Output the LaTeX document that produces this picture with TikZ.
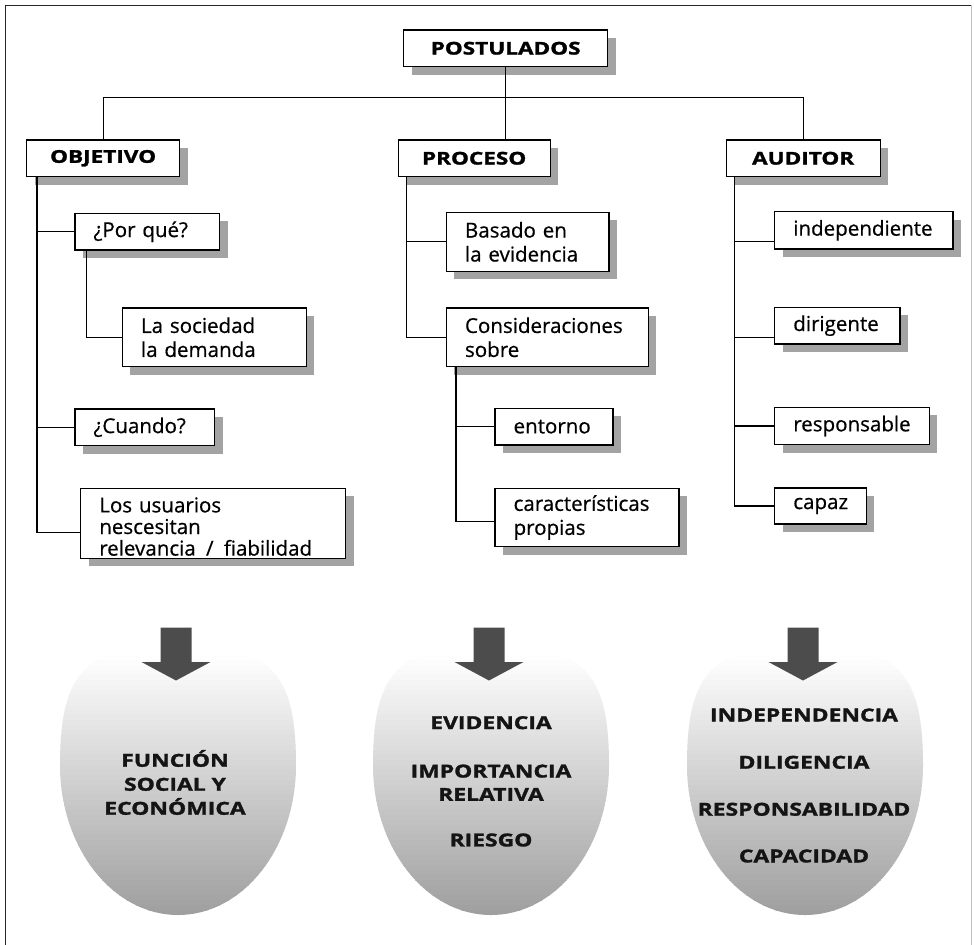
\documentclass[tikz,border=0pt]{standalone}
\usepackage{fontspec}
\setmainfont{Open Sans}[FakeBold=0.6]
\newfontfamily\headfont{Open Sans}[FakeStretch=1.28, FakeBold=1.6]
\usetikzlibrary{shadows}

\begin{document}
\begin{tikzpicture}[x=0.75pt,y=-0.75pt,
  frameline/.style={line width=1.1pt, draw=black!85},
  link/.style={line width=0.9pt, draw=black},
  boxbase/.style={draw=black, fill=white, line width=0.95pt, anchor=north west,
    inner ysep=0pt,
    drop shadow={shadow xshift=6pt, shadow yshift=-6pt, fill=black!36, opacity=1}},
  headbox/.style={boxbase, inner xsep=0pt,
    font=\headfont\bfseries\fontsize{13.2}{16}\selectfont, align=center},
  itembox/.style={boxbase, inner xsep=14pt, align=left,
    font=\fontsize{15.4}{18}\selectfont,
    execute at begin node={\hyphenpenalty=10000\exhyphenpenalty=10000}},
  tightbox/.style={itembox, font=\fontsize{15.4}{16.2}\selectfont,
    text height=18pt, text depth=34.4pt},
  arrowfill/.style={fill=black!70},
  eggtext/.style={align=center, text=black!92, inner sep=0pt,
    font=\headfont\bfseries\fontsize{13.4}{17.5}\selectfont},
  eggtextwide/.style={eggtext,
    font=\headfont\bfseries\fontsize{13.4}{18}\selectfont},
  % egg-shaped panel: broad top, elliptic bottom, white-to-grey gradient
  egg/.pic={
    \begin{scope}
      \clip (-118,0) .. controls (-118,-93.6) and (-92,-120) .. (0,-120)
        .. controls (92,-120) and (118,-93.6) .. (118,0)
        .. controls (118,82.8) and (65.2,150) .. (0,150)
        .. controls (-65.2,150) and (-118,82.8) .. cycle;
      \foreach \i in {0,...,54} {
        \pgfmathsetmacro\shadeval{max(0,38*((\i*5+2.5)/270-0.04)/0.96)}
        \fill[black!\shadeval] (-125,-120+\i*5) rectangle (125,-120+\i*5+5.6);
      }
    \end{scope}
  },
  blockarrow/.pic={
    \fill[arrowfill] (-15.5,0) -- (15.5,0) -- (15.5,34.5) -- (34.5,34.5)
      -- (0,53) -- (-34.5,34.5) -- (-15.5,34.5) -- cycle;
  }
]
\useasboundingbox (0,0) rectangle (974,945);

% outer frame
\draw[frameline] (5.5,960) -- (5.5,5.5) -- (971.5,5.5);
\draw[line width=0.8pt, draw=black!25] (971.5,5.5) -- (971.5,960);

% shaded result shapes and the block arrows above them
\pic at (178,765) {egg};
\pic at (491,765) {egg};
\pic at (805,765) {egg};
\pic at (176,627.5) {blockarrow};
\pic at (489,627.5) {blockarrow};
\pic at (803,627.5) {blockarrow};

% top of the hierarchy
\node[headbox, minimum width=153pt, minimum height=27.5pt] (post) at (403,29.3) {POSTULADOS};
\node[headbox, minimum width=114.75pt, minimum height=27.5pt] (obj) at (26,139.3) {OBJETIVO};
\node[headbox, minimum width=114pt, minimum height=27.5pt] (pro) at (397.5,139.3) {PROCESO};
\node[headbox, minimum width=115.5pt, minimum height=27.5pt] (aud) at (725.5,139.3) {AUDITOR};

% OBJETIVO branch
\node[itembox, minimum width=108.5pt, minimum height=27.5pt, text width=80.5pt] (pq) at (74.3,212.7) {¿Por qué?};
\node[itembox, minimum width=138pt, minimum height=44pt, text width=110pt] (soc) at (121.7,307.3) {La sociedad\\la demanda};
\node[itembox, minimum width=104.8pt, minimum height=27.5pt, text width=76.8pt] (cua) at (74.3,408.3) {¿Cuando?};
\node[tightbox, minimum width=198.75pt, minimum height=52.5pt, text width=170.75pt] (usu) at (80,487.7) {Los usuarios\\nescesitan\\relevancia\hspace{0.5em}/\hspace{0.5em}fiabilidad};

% PROCESO branch
\node[itembox, minimum width=122pt, minimum height=44.25pt, text width=94pt] (bas) at (445.7,211.7) {Basado en\\la evidencia};
\node[itembox, minimum width=151.5pt, minimum height=44pt, text width=123.5pt] (con) at (445.7,307.3) {Consideraciones\\sobre};
\node[itembox, minimum width=88.5pt, minimum height=27.5pt, text width=60.5pt] (ent) at (494.3,407.7) {entorno};
\node[itembox, minimum width=138pt, minimum height=43.7pt, text width=110pt] (car) at (494.3,487.7) {características\\propias};

% AUDITOR branch
\node[itembox, minimum width=133.7pt, minimum height=28pt, text width=105.7pt] (ind) at (774,211) {independiente};
\node[itembox, minimum width=94pt, minimum height=27.5pt, text width=66pt] (dir) at (774,306.7) {dirigente};
\node[itembox, minimum width=116pt, minimum height=28pt, text width=88pt] (res) at (774,406.7) {responsable};
\node[itembox, minimum width=68.8pt, minimum height=27pt, text width=40.8pt] (cap) at (774,487.3) {capaz};

% connectors
\coordinate (bar) at (504.5,97.3);
\draw[link] (post.south) -- (post.south |- pro.north);
\draw[link] (obj.north) |- (bar) -| (aud.north);

\coordinate (objT) at ([xshift=8.25pt]obj.south west);
\coordinate (usuJ) at ([yshift=-6.75pt]usu.west);
\draw[link] (objT) |- (usuJ);
\draw[link] (pq.west) -- (pq.west -| objT);
\draw[link] (cua.west) -- (cua.west -| objT);
\coordinate (pqT) at ([xshift=9.3pt]pq.south west);
\draw[link] (pqT) |- (soc.west);

\coordinate (proT) at ([xshift=6.75pt]pro.south west);
\draw[link] (proT) |- (con.west);
\draw[link] (bas.west) -- (bas.west -| proT);
\coordinate (conT) at ([xshift=7.7pt]con.south west);
\coordinate (carJ) at ([yshift=-3pt]car.west);
\draw[link] (conT) |- (carJ);
\draw[link] (ent.west) -- (ent.west -| conT);

\coordinate (audT) at ([xshift=7pt]aud.south west);
\coordinate (indJ) at ([yshift=-8.25pt]ind.west);
\coordinate (dirJ) at ([yshift=-9pt]dir.west);
\draw[link] (audT) |- (cap.west);
\draw[link] (indJ) -- (indJ -| audT);
\draw[link] (dirJ) -- (dirJ -| audT);
\draw[link] (res.west) -- (res.west -| audT);

% result texts
\node[eggtextwide] (fun) at (175,782.5) {FUNCIÓN\\SOCIAL Y\\ECONÓMICA};
\node[eggtext] (evi) at (491,722.7) {EVIDENCIA};
\node[eggtext] (imp) at (491,782.7) {IMPORTANCIA\\RELATIVA};
\node[eggtext] (rie) at (491,840) {RIESGO};
\node[eggtext] (inde) at (804,715) {INDEPENDENCIA};
\node[eggtext] (dili) at (804,762.3) {DILIGENCIA};
\node[eggtext] (resp) at (804,809.3) {RESPONSABILIDAD};
\node[eggtext] (capa) at (804,856) {CAPACIDAD};
\end{tikzpicture}
\end{document}
